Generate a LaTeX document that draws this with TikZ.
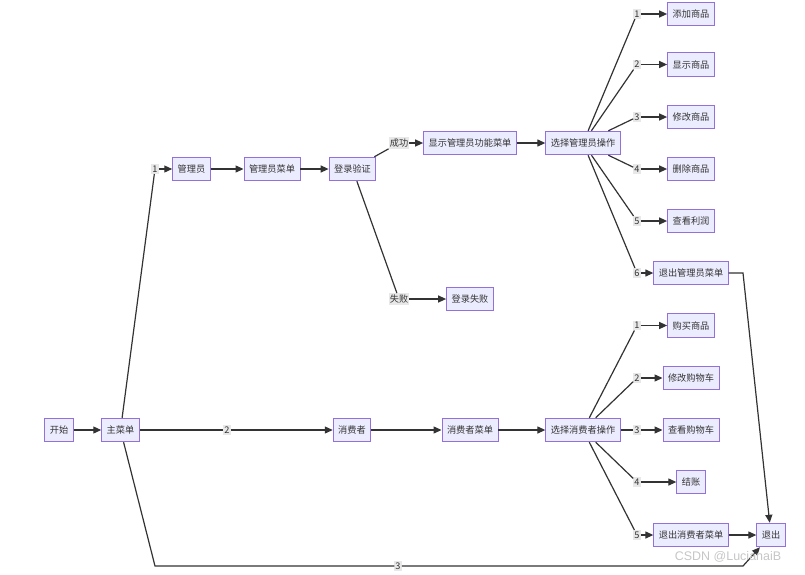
\documentclass[tikz,border=0pt]{standalone}
\usepackage{fontspec}
\newfontfamily\cjk{Noto Sans CJK SC}
\newfontfamily\wmfont{Liberation Sans}
\usetikzlibrary{arrows.meta}
\definecolor{mmfill}{HTML}{ECECFF}
\definecolor{mmstroke}{HTML}{9370DB}
\definecolor{mmline}{HTML}{333333}
\definecolor{mmlbl}{HTML}{E8E8E8}
\definecolor{mmtext}{HTML}{333333}
\begin{document}
\begin{tikzpicture}[x=1pt,y=-1pt,
  box/.style={draw=mmstroke, fill=mmfill, line width=0.9pt, minimum height=23.5pt,
    inner xsep=5pt, inner ysep=0pt, text=mmtext, font=\cjk\fontsize{9.2}{9.2}\selectfont},
  elbl/.style={fill=mmlbl, inner xsep=1pt, inner ysep=1.5pt, text=mmtext,
    font=\cjk\fontsize{9.2}{9.2}\selectfont},
  ln/.style={draw=mmline, line width=1.2pt},
  arr/.style={ln, -{Triangle[length=8pt,width=7pt]}}]
\useasboundingbox (0,0) rectangle (805,574);
% nodes
\node[box] (start) at (59,430) {开始};
\node[box] (main) at (120.5,430) {主菜单};
\node[elbl] (l1) at (155,169) {1};
\node[elbl] (l2) at (227,430) {2};
\node[elbl] (l3) at (398,566) {3};
\coordinate (k1) at (155,566);
\coordinate (k2) at (743,566);
\coordinate (k3) at (743,273);
\node[box] (admin) at (191.5,169) {管理员};
\node[box] (amenu) at (272,169) {管理员菜单};
\node[box] (login) at (352.5,169) {登录验证};
\node[elbl] (ok) at (399,143) {成功};
\node[elbl] (fail) at (399,299) {失败};
\node[box] (showA) at (470,143) {显示管理员功能菜单};
\node[box] (selA) at (583,143) {选择管理员操作};
\node[box] (lfail) at (470,299) {登录失败};
\node[elbl] (a1) at (637,14) {1};
\node[elbl] (a2) at (637,64.5) {2};
\node[elbl] (a3) at (637,117) {3};
\node[elbl] (a4) at (637,169) {4};
\node[elbl] (a5) at (637,221) {5};
\node[elbl] (a6) at (637,273) {6};
\node[box] (ta1) at (691,14) {添加商品};
\node[box] (ta2) at (691,64.5) {显示商品};
\node[box] (ta3) at (691,117) {修改商品};
\node[box] (ta4) at (691,169) {删除商品};
\node[box] (ta5) at (691,221) {查看利润};
\node[box] (ta6) at (691,273) {退出管理员菜单};
\node[box] (cons) at (352,430) {消费者};
\node[box] (cmenu) at (470,430) {消费者菜单};
\node[box] (selC) at (583,430) {选择消费者操作};
\node[elbl] (c1) at (637,325.5) {1};
\node[elbl] (c2) at (637,378) {2};
\node[elbl] (c3) at (637,430) {3};
\node[elbl] (c4) at (637,482) {4};
\node[elbl] (c5) at (637,535) {5};
\node[box] (tc1) at (691,325.5) {购买商品};
\node[box] (tc2) at (691,378) {修改购物车};
\node[box] (tc3) at (691,430) {查看购物车};
\node[box] (tc4) at (691,482) {结账};
\node[box] (tc5) at (691,535) {退出消费者菜单};
\node[box] (exit) at (771,535) {退出};
% edges
\draw[arr] (start) -- (main);
\draw[ln] (main) -- (l1); \draw[arr] (l1) -- (admin);
\draw[ln] (main) -- (l2); \draw[arr] (l2) -- (cons);
\draw[ln] (main) -- (k1) -- (l3); \draw[arr] (l3) -- (k2) -- (exit);
\draw[arr] (admin) -- (amenu);
\draw[arr] (amenu) -- (login);
\draw[ln] (login) -- (ok); \draw[arr] (ok) -- (showA);
\draw[ln] (login) -- (fail); \draw[arr] (fail) -- (lfail);
\draw[arr] (showA) -- (selA);
\foreach \i in {1,...,6} {
  \draw[ln] (selA) -- (a\i); \draw[arr] (a\i) -- (ta\i);
}
\draw[arr] (ta6) -- (k3) -- (exit);
\draw[arr] (cons) -- (cmenu);
\draw[arr] (cmenu) -- (selC);
\foreach \i in {1,...,5} {
  \draw[ln] (selC) -- (c\i); \draw[arr] (c\i) -- (tc\i);
}
\draw[arr] (tc5) -- (exit);
% watermark
\node[text=gray!45, font=\wmfont\fontsize{12.5}{12.5}\selectfont] (wm) at (728,557) {CSDN @LucianaiB};
\end{tikzpicture}
\end{document}
